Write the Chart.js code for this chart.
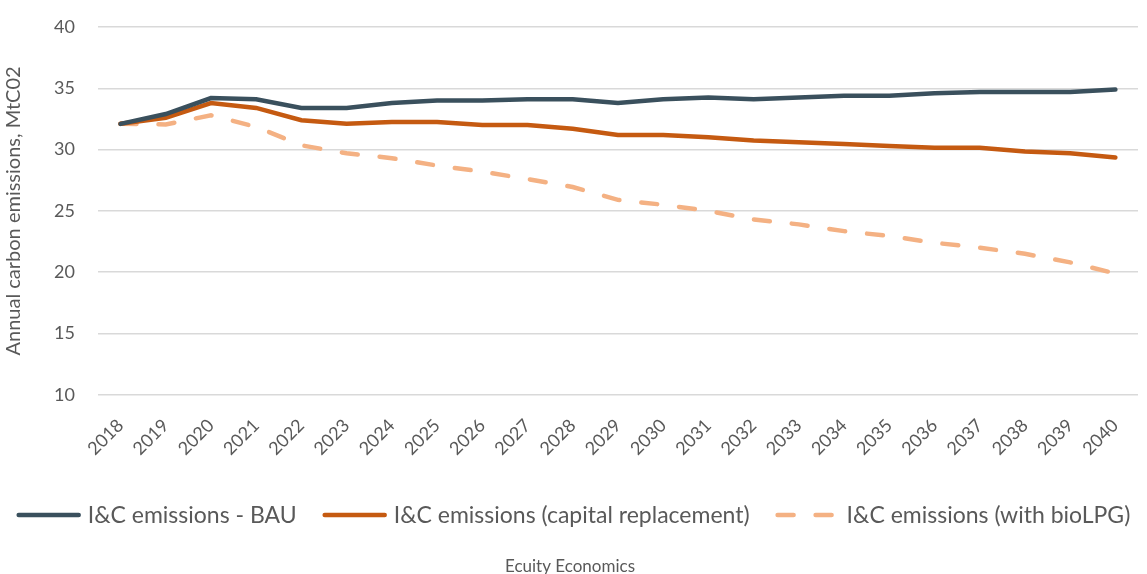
<!DOCTYPE html>
<html>
<head>
<meta charset="utf-8">
<script src="https://cdn.jsdelivr.net/npm/chart.js@4"></script>
<style>
  html, body { margin: 0; padding: 0; background: #fff; overflow: hidden; }
  #wrap { width: 1147px; height: 574px; position: relative; }
</style>
</head>
<body>
<div id="wrap"><canvas id="chart"></canvas></div>
<script>
const years = ['2018','2019','2020','2021','2022','2023','2024','2025','2026','2027','2028',
  '2029','2030','2031','2032','2033','2034','2035','2036','2037','2038','2039','2040'];
const bau = [32.1, 32.9, 34.2, 34.1, 33.4, 33.4, 33.8, 34.0, 34.0, 34.1, 34.1,
  33.8, 34.1, 34.25, 34.1, 34.25, 34.4, 34.4, 34.6, 34.7, 34.7, 34.7, 34.9];
const capitalReplacement = [32.1, 32.6, 33.8, 33.4, 32.4, 32.1, 32.25, 32.25, 32.0, 32.0, 31.7,
  31.2, 31.2, 31.0, 30.75, 30.6, 30.45, 30.3, 30.15, 30.15, 29.85, 29.7, 29.35];
const withBioLPG = [32.1, 32.05, 32.8, 31.85, 30.35, 29.7, 29.3, 28.7, 28.2, 27.6, 26.95,
  25.9, 25.5, 25.0, 24.3, 23.9, 23.35, 22.95, 22.4, 22.0, 21.5, 20.8, 19.9];
const seriesNames = ['I&C emissions - BAU', 'I&C emissions (capital replacement)', 'I&C emissions (with bioLPG)'];
const sourceText = 'Ecuity Economics';

const textColor = '#595959';
const fontFamily = 'Lato, "Open Sans", sans-serif';

// draws the legend as line samples + labels, centred in the gap above the source title
const lineLegend = {
  id: 'lineLegend',
  afterDraw(chart) {
    const ctx = chart.ctx;
    const sets = chart.data.datasets;
    const lineLen = 62, textGap = 9, itemGap = 26;
    ctx.save();
    ctx.font = '23px ' + fontFamily;
    const widths = sets.map(d => ctx.measureText(d.label).width);
    const total = widths.reduce((s, w) => s + lineLen + textGap + w, 0) + itemGap * (sets.length - 1);
    let x = (chart.width - total) / 2;
    const y = chart.height - 59;
    sets.forEach((d, i) => {
      ctx.beginPath();
      ctx.strokeStyle = d.borderColor;
      ctx.lineWidth = d.borderWidth;
      ctx.lineCap = 'round';
      ctx.setLineDash(d.borderDash || []);
      ctx.moveTo(x + 2, y);
      ctx.lineTo(x + lineLen, y);
      ctx.stroke();
      ctx.setLineDash([]);
      ctx.fillStyle = textColor;
      ctx.textBaseline = 'middle';
      ctx.textAlign = 'left';
      ctx.fillText(d.label, x + lineLen + textGap, y + 1);
      x += lineLen + textGap + widths[i] + itemGap;
    });
    ctx.restore();
  }
};

new Chart(document.getElementById('chart'), {
  type: 'line',
  data: {
    labels: years,
    datasets: [
      { label: seriesNames[0], data: bau, borderColor: '#3A505D', backgroundColor: '#3A505D',
        borderWidth: 4.5, pointRadius: 0, tension: 0, borderCapStyle: 'round' },
      { label: seriesNames[1], data: capitalReplacement, borderColor: '#C55A11', backgroundColor: '#C55A11',
        borderWidth: 4.5, pointRadius: 0, tension: 0, borderCapStyle: 'round' },
      { label: seriesNames[2], data: withBioLPG, borderColor: '#F4B183', backgroundColor: '#F4B183',
        borderWidth: 4.5, pointRadius: 0, tension: 0, borderDash: [16, 22], borderCapStyle: 'round' }
    ]
  },
  options: {
    responsive: true,
    maintainAspectRatio: false,
    animation: false,
    layout: { padding: { left: 2, right: 9, top: 27, bottom: 0 } },
    scales: {
      x: {
        offset: true,
        grid: { display: false },
        border: { display: false },
        ticks: { color: textColor, font: { family: fontFamily, size: 18 }, maxRotation: 45, minRotation: 45, autoSkip: false, padding: 12 }
      },
      y: {
        min: 10, max: 40,
        grid: { color: '#D9D9D9', lineWidth: 1.5, drawTicks: false },
        border: { display: false },
        ticks: { stepSize: 5, color: textColor, font: { family: fontFamily, size: 18 }, padding: 23 },
        title: { display: true, text: 'Annual carbon emissions, MtC02', color: textColor,
          font: { family: fontFamily, size: 20 }, padding: { top: 0, bottom: 5 } },
        // tick padding would otherwise push the plot area down
        afterFit(scale) { scale.paddingTop = 0; scale.paddingBottom = 0; }
      }
    },
    plugins: {
      legend: { display: false },
      title: {
        display: true, position: 'bottom', text: sourceText, color: textColor,
        font: { family: fontFamily, size: 17, weight: 'normal' }, padding: { top: 85, bottom: -3 }
      },
      tooltip: { enabled: false }
    }
  },
  plugins: [lineLegend]
});
</script>
</body>
</html>
